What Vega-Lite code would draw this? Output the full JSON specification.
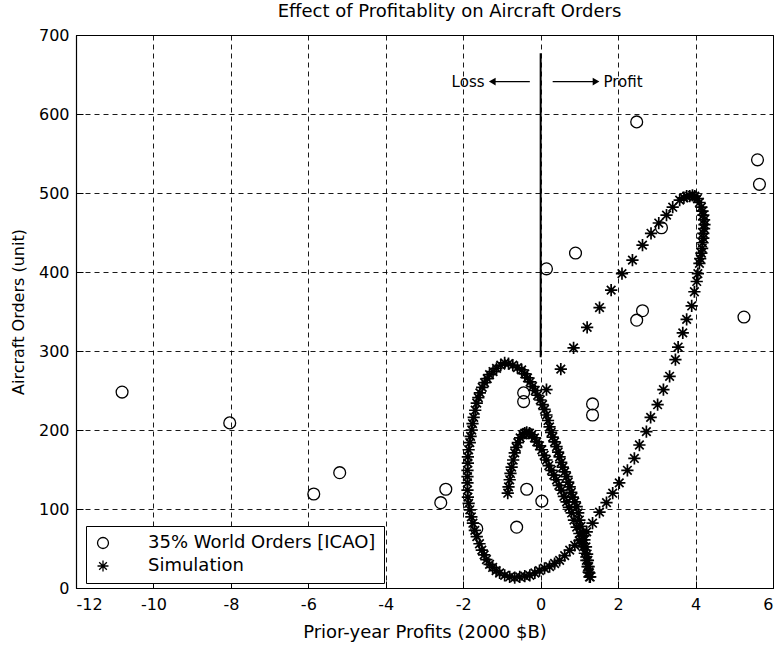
{
  "$schema": "https://vega.github.io/schema/vega-lite/v6.json",
  "width": 697,
  "height": 553,
  "autosize": {"type": "none"},
  "padding": {"left": 76, "top": 35, "right": 10, "bottom": 61},
  "background": "white",
  "title": {"text": "Effect of Profitablity on Aircraft Orders", "font": "DejaVu Sans", "fontSize": 18, "fontWeight": "normal", "color": "black", "offset": 6, "dx": 25},
  "config": {
    "view": {"stroke": "black", "strokeWidth": 1},
    "axis": {
      "grid": true, "gridColor": "black", "gridDash": [5, 4], "gridOpacity": 1, "gridWidth": 0.9,
      "domain": true, "domainColor": "black", "domainWidth": 1.2,
      "ticks": true, "tickColor": "black", "tickSize": -7, "tickWidth": 1,
      "labelFont": "DejaVu Sans", "labelFontSize": 16, "labelColor": "black",
      "labelExpr": "datum.value + ''",
      "titleFont": "DejaVu Sans", "titleFontSize": 16, "titleFontWeight": "normal", "titleColor": "black"
    }
  },
  "datasets": {
    "obs": [
      {"x": -10.81, "y": 248, "series": "35% World Orders [ICAO]"},
      {"x": -8.03, "y": 209, "series": "35% World Orders [ICAO]"},
      {"x": -5.86, "y": 119, "series": "35% World Orders [ICAO]"},
      {"x": -5.19, "y": 146, "series": "35% World Orders [ICAO]"},
      {"x": -2.58, "y": 108, "series": "35% World Orders [ICAO]"},
      {"x": -2.45, "y": 125, "series": "35% World Orders [ICAO]"},
      {"x": -1.65, "y": 75, "series": "35% World Orders [ICAO]"},
      {"x": -0.62, "y": 77, "series": "35% World Orders [ICAO]"},
      {"x": -0.36, "y": 125, "series": "35% World Orders [ICAO]"},
      {"x": 0.03, "y": 110, "series": "35% World Orders [ICAO]"},
      {"x": -0.44, "y": 247, "series": "35% World Orders [ICAO]"},
      {"x": -0.44, "y": 236, "series": "35% World Orders [ICAO]"},
      {"x": 1.34, "y": 233, "series": "35% World Orders [ICAO]"},
      {"x": 1.34, "y": 219, "series": "35% World Orders [ICAO]"},
      {"x": 0.15, "y": 404, "series": "35% World Orders [ICAO]"},
      {"x": 0.9, "y": 424, "series": "35% World Orders [ICAO]"},
      {"x": 2.48, "y": 339, "series": "35% World Orders [ICAO]"},
      {"x": 2.63, "y": 351, "series": "35% World Orders [ICAO]"},
      {"x": 2.48, "y": 590, "series": "35% World Orders [ICAO]"},
      {"x": 3.12, "y": 456, "series": "35% World Orders [ICAO]"},
      {"x": 5.25, "y": 343, "series": "35% World Orders [ICAO]"},
      {"x": 5.6, "y": 542, "series": "35% World Orders [ICAO]"},
      {"x": 5.65, "y": 511, "series": "35% World Orders [ICAO]"}
    ],
    "sim": [
      {"x": 0.15, "y": 251}, {"x": 0.52, "y": 277}, {"x": 0.85, "y": 304}, {"x": 1.2, "y": 330},
      {"x": 1.52, "y": 355}, {"x": 1.82, "y": 377}, {"x": 2.1, "y": 398}, {"x": 2.37, "y": 415},
      {"x": 2.63, "y": 434}, {"x": 2.85, "y": 449}, {"x": 3.05, "y": 462}, {"x": 3.25, "y": 472},
      {"x": 3.41, "y": 482}, {"x": 3.59, "y": 491}, {"x": 3.7, "y": 494}, {"x": 3.77, "y": 496},
      {"x": 3.85, "y": 496}, {"x": 3.92, "y": 497}, {"x": 3.98, "y": 496}, {"x": 4.05, "y": 493},
      {"x": 4.1, "y": 488}, {"x": 4.15, "y": 482}, {"x": 4.18, "y": 477}, {"x": 4.2, "y": 472},
      {"x": 4.22, "y": 466}, {"x": 4.23, "y": 460}, {"x": 4.22, "y": 455}, {"x": 4.2, "y": 449},
      {"x": 4.2, "y": 443}, {"x": 4.18, "y": 437}, {"x": 4.17, "y": 430}, {"x": 4.15, "y": 424},
      {"x": 4.12, "y": 417}, {"x": 4.1, "y": 411}, {"x": 4.06, "y": 398}, {"x": 4.03, "y": 388},
      {"x": 3.97, "y": 375}, {"x": 3.9, "y": 357}, {"x": 3.77, "y": 340}, {"x": 3.67, "y": 323},
      {"x": 3.55, "y": 305}, {"x": 3.48, "y": 289}, {"x": 3.33, "y": 268}, {"x": 3.17, "y": 251},
      {"x": 3.02, "y": 232}, {"x": 2.84, "y": 216}, {"x": 2.73, "y": 198}, {"x": 2.55, "y": 181},
      {"x": 2.42, "y": 164}, {"x": 2.24, "y": 149}, {"x": 2.03, "y": 133}, {"x": 1.86, "y": 120},
      {"x": 1.7, "y": 108}, {"x": 1.52, "y": 96}, {"x": 1.34, "y": 82}, {"x": 1.19, "y": 71},
      {"x": 1.1, "y": 66}, {"x": 1.0, "y": 60}, {"x": 0.88, "y": 54}, {"x": 0.75, "y": 48},
      {"x": 0.62, "y": 41}, {"x": 0.49, "y": 35}, {"x": 0.36, "y": 31}, {"x": 0.23, "y": 27},
      {"x": 0.1, "y": 25}, {"x": -0.03, "y": 22}, {"x": -0.15, "y": 19}, {"x": -0.28, "y": 16},
      {"x": -0.41, "y": 15}, {"x": -0.54, "y": 14}, {"x": -0.67, "y": 13}, {"x": -0.8, "y": 14},
      {"x": -0.93, "y": 16}, {"x": -1.06, "y": 19}, {"x": -1.15, "y": 22}, {"x": -1.24, "y": 26},
      {"x": -1.32, "y": 30}, {"x": -1.4, "y": 36}, {"x": -1.46, "y": 42}, {"x": -1.52, "y": 48},
      {"x": -1.58, "y": 56}, {"x": -1.65, "y": 65}, {"x": -1.7, "y": 73}, {"x": -1.75, "y": 82},
      {"x": -1.79, "y": 90}, {"x": -1.83, "y": 99}, {"x": -1.86, "y": 107}, {"x": -1.88, "y": 115},
      {"x": -1.89, "y": 124}, {"x": -1.89, "y": 133}, {"x": -1.89, "y": 141}, {"x": -1.89, "y": 149},
      {"x": -1.88, "y": 158}, {"x": -1.88, "y": 166}, {"x": -1.86, "y": 175}, {"x": -1.83, "y": 184},
      {"x": -1.81, "y": 192}, {"x": -1.78, "y": 200}, {"x": -1.76, "y": 208}, {"x": -1.73, "y": 216},
      {"x": -1.69, "y": 225}, {"x": -1.65, "y": 234}, {"x": -1.61, "y": 241}, {"x": -1.57, "y": 247},
      {"x": -1.51, "y": 254}, {"x": -1.45, "y": 260}, {"x": -1.38, "y": 265}, {"x": -1.32, "y": 270},
      {"x": -1.23, "y": 274}, {"x": -1.14, "y": 278}, {"x": -1.03, "y": 282}, {"x": -0.93, "y": 285},
      {"x": -0.83, "y": 284}, {"x": -0.72, "y": 282}, {"x": -0.6, "y": 279}, {"x": -0.49, "y": 276},
      {"x": -0.41, "y": 271}, {"x": -0.34, "y": 266}, {"x": -0.27, "y": 261}, {"x": -0.21, "y": 255},
      {"x": -0.14, "y": 250}, {"x": -0.08, "y": 244}, {"x": -0.01, "y": 238}, {"x": 0.05, "y": 232},
      {"x": 0.1, "y": 226}, {"x": 0.15, "y": 219}, {"x": 0.19, "y": 212}, {"x": 0.23, "y": 204},
      {"x": 0.27, "y": 197}, {"x": 0.31, "y": 191}, {"x": 0.36, "y": 185}, {"x": 0.41, "y": 179},
      {"x": 0.45, "y": 172}, {"x": 0.49, "y": 166}, {"x": 0.53, "y": 159}, {"x": 0.57, "y": 153},
      {"x": 0.62, "y": 147}, {"x": 0.67, "y": 141}, {"x": 0.71, "y": 134}, {"x": 0.75, "y": 128},
      {"x": 0.79, "y": 121}, {"x": 0.83, "y": 115}, {"x": 0.88, "y": 109}, {"x": 0.93, "y": 103},
      {"x": 0.97, "y": 95}, {"x": 1.0, "y": 86}, {"x": 1.04, "y": 78}, {"x": 1.08, "y": 70},
      {"x": 1.13, "y": 61}, {"x": 1.17, "y": 52}, {"x": 1.2, "y": 43}, {"x": 1.22, "y": 35},
      {"x": 1.24, "y": 27}, {"x": 1.26, "y": 19}, {"x": 1.28, "y": 14},
      {"x": -0.85, "y": 120}, {"x": -0.83, "y": 128}, {"x": -0.8, "y": 137}, {"x": -0.78, "y": 145},
      {"x": -0.75, "y": 153}, {"x": -0.71, "y": 162}, {"x": -0.67, "y": 171}, {"x": -0.63, "y": 178},
      {"x": -0.59, "y": 184}, {"x": -0.53, "y": 190}, {"x": -0.46, "y": 194}, {"x": -0.41, "y": 196},
      {"x": -0.36, "y": 197}, {"x": -0.29, "y": 196}, {"x": -0.23, "y": 194}, {"x": -0.16, "y": 190},
      {"x": -0.1, "y": 185}, {"x": -0.03, "y": 180}, {"x": 0.03, "y": 175}, {"x": 0.09, "y": 168},
      {"x": 0.15, "y": 162}, {"x": 0.21, "y": 155}, {"x": 0.28, "y": 149}, {"x": 0.34, "y": 143},
      {"x": 0.41, "y": 137}, {"x": 0.47, "y": 130}, {"x": 0.54, "y": 124}, {"x": 0.6, "y": 116},
      {"x": 0.67, "y": 109}, {"x": 0.73, "y": 102}, {"x": 0.8, "y": 95}, {"x": 0.86, "y": 86},
      {"x": 0.93, "y": 77}, {"x": 1.0, "y": 69}, {"x": 1.06, "y": 61}, {"x": 1.1, "y": 52},
      {"x": 1.14, "y": 44}, {"x": 1.18, "y": 35}, {"x": 1.21, "y": 27}, {"x": 1.24, "y": 20},
      {"x": 1.26, "y": 14}
    ],
    "divider": [{"x": 0, "y": 292, "y2": 677}],
    "arrows": [
      {"x": -0.28, "x2": -1.22, "y": 641},
      {"x": 0.31, "x2": 1.4, "y": 641}
    ],
    "headLeft": [{"x": -1.25, "y": 641}],
    "headRight": [{"x": 1.43, "y": 641}],
    "lossText": [{"x": -1.45, "y": 641, "label": "Loss"}],
    "profitText": [{"x": 1.62, "y": 641, "label": "Profit"}]
  },
  "encoding": {
    "x": {"field": "x", "type": "quantitative", "scale": {"domain": [-12, 6], "nice": false, "zero": false},
      "axis": {"title": "Prior-year Profits (2000 $B)", "titleFontSize": 18, "values": [-12, -10, -8, -6, -4, -2, 0, 2, 4, 6], "labelPadding": 15, "titlePadding": 11}},
    "y": {"field": "y", "type": "quantitative", "scale": {"domain": [0, 700], "nice": false, "zero": false},
      "axis": {"title": "Aircraft Orders (unit)", "values": [0, 100, 200, 300, 400, 500, 600, 700], "labelPadding": 14, "titlePadding": 12}}
  },
  "layer": [
    {
      "data": {"name": "obs"},
      "mark": {"type": "point", "filled": false, "color": "black", "strokeWidth": 1.3, "size": 140, "opacity": 1},
      "encoding": {
        "shape": {"field": "series", "type": "nominal",
          "scale": {"domain": ["35% World Orders [ICAO]", "Simulation"], "range": ["circle", "M-1,0L1,0M0,-1L0,1M-0.7,-0.7L0.7,0.7M-0.7,0.7L0.7,-0.7"]},
          "legend": {"orient": "none", "legendX": 10, "legendY": 491, "title": null, "strokeColor": "black", "fillColor": "white", "padding": 8,
            "labelFont": "DejaVu Sans", "labelFontSize": 18, "labelColor": "black", "labelOffset": 36, "rowPadding": 5,
            "symbolStrokeColor": "black", "symbolStrokeWidth": 1.3, "symbolSize": 120, "symbolFillColor": "white", "labelLimit": 400}}
      }
    },
    {
      "data": {"name": "sim"},
      "transform": [{"calculate": "'Simulation'", "as": "series"}],
      "mark": {"type": "point", "filled": false, "color": "black", "strokeWidth": 1.7, "size": 150, "opacity": 1},
      "encoding": {"shape": {"field": "series", "type": "nominal"}}
    },
    {
      "data": {"name": "divider"},
      "mark": {"type": "rule", "color": "black", "strokeWidth": 2},
      "encoding": {"y2": {"field": "y2"}}
    },
    {
      "data": {"name": "arrows"},
      "mark": {"type": "rule", "color": "black", "strokeWidth": 1.3},
      "encoding": {"x2": {"field": "x2"}}
    },
    {
      "data": {"name": "headLeft"},
      "mark": {"type": "point", "shape": "triangle-left", "filled": true, "color": "black", "size": 60, "opacity": 1}
    },
    {
      "data": {"name": "headRight"},
      "mark": {"type": "point", "shape": "triangle-right", "filled": true, "color": "black", "size": 60, "opacity": 1}
    },
    {
      "data": {"name": "lossText"},
      "mark": {"type": "text", "align": "right", "baseline": "middle", "font": "DejaVu Sans", "fontSize": 15, "color": "black"},
      "encoding": {"text": {"field": "label"}}
    },
    {
      "data": {"name": "profitText"},
      "mark": {"type": "text", "align": "left", "baseline": "middle", "font": "DejaVu Sans", "fontSize": 15, "color": "black"},
      "encoding": {"text": {"field": "label"}}
    }
  ]
}
